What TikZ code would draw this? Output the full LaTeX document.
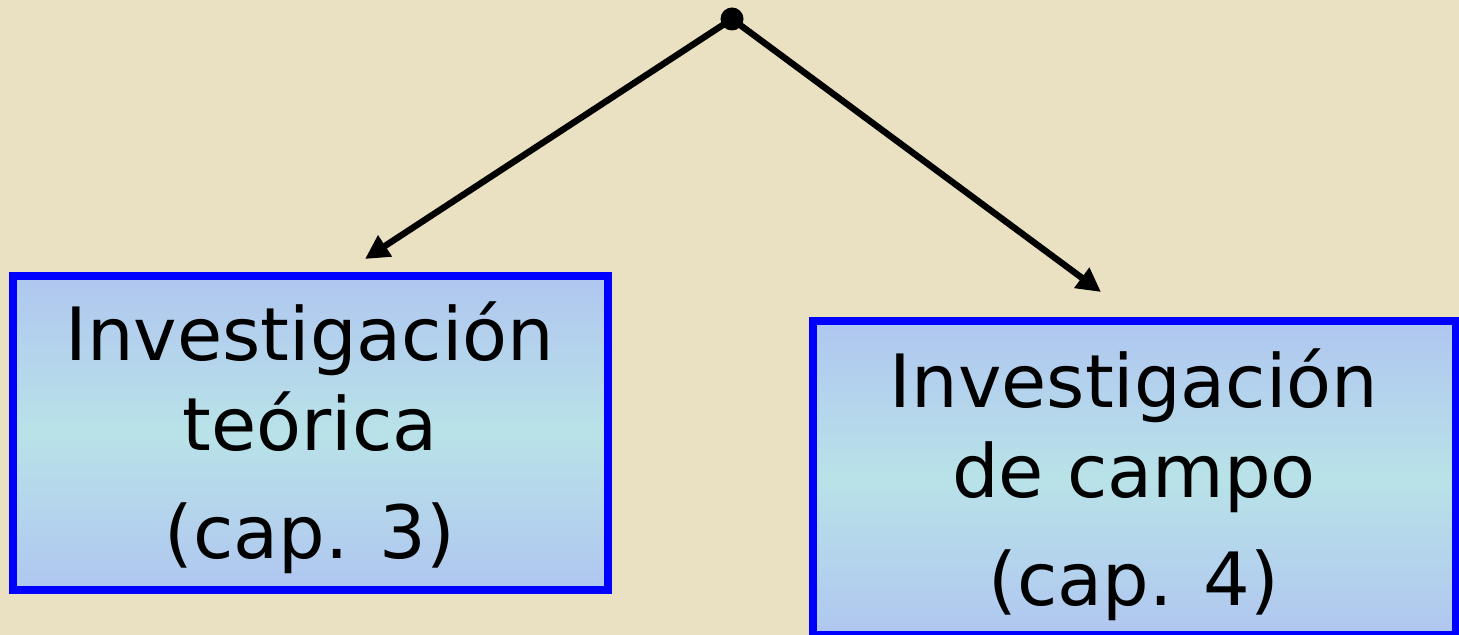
\documentclass[tikz,border=0pt]{standalone}
\usepackage{fontspec}
\setmainfont{DejaVu Sans}
\usepackage{tikz}
\usetikzlibrary{arrows.meta, shapes.geometric, calc}
\definecolor{sfondo}{RGB}{233,225,193}
\definecolor{bordo}{RGB}{0,0,255}
\definecolor{cielo}{RGB}{176,198,240}
\definecolor{acqua}{RGB}{184,226,232}
\tikzset{
  riquadro/.style = {rectangle, draw = bordo, line width = 4pt, top color = cielo, bottom color = cielo, middle color = acqua, inner sep = 0pt},
  testo/.style = {align = center, inner sep = 0pt, font = \fontsize{36.75}{45}\selectfont},
  freccia/.style = {line width = 3.2pt, -{Triangle[length = 12pt, width = 12pt]}}
}

\begin{document}
\begin{tikzpicture}[x = 0.5pt, y = -0.5pt]
    % Parametri
    \pgfmathsetmacro{\larg}{1459}
    \pgfmathsetmacro{\alt}{635}
    % Sfondo
    \fill[sfondo] (0,0) rectangle (\larg,\alt);
    \useasboundingbox (0,0) rectangle (\larg,\alt);
    % Punto
    \node[circle, fill = black, inner sep = 0pt, minimum size = 11.5pt] (punto) at (732,19) {};
    % Riquadri
    \node[riquadro, minimum width = 297.5pt, minimum height = 157pt] (teorica) at (310.5,433) {};
    \node[riquadro, minimum width = 321.5pt, minimum height = 157pt] (campo) at (1134.5,478) {};
    \node[testo, anchor = base] (teoricaTesto) at (310,558) {Investigación\\teórica\\[9pt](cap. 3)};
    \node[testo, anchor = base] (campoTesto) at (1134,605) {Investigación\\de campo\\[9pt](cap. 4)};
    % Frecce
    \coordinate (puntaSx) at (365,259);
    \coordinate (puntaDx) at (1101,292);
    \draw[freccia] (punto.center) -- (puntaSx);
    \draw[freccia] (punto.center) -- (puntaDx);
\end{tikzpicture}
\end{document}
